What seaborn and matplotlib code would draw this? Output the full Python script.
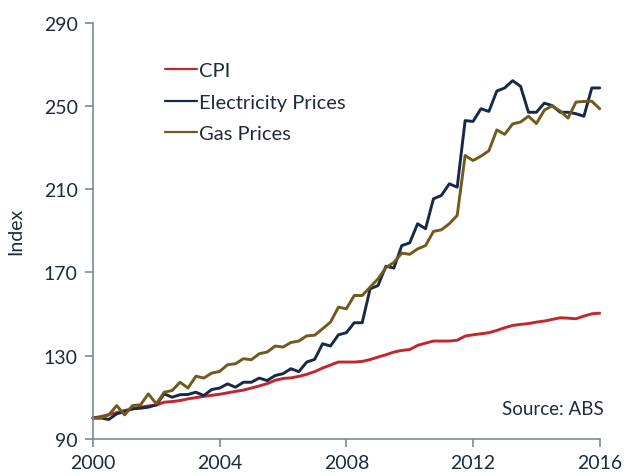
import numpy as np
import pandas as pd
import matplotlib
matplotlib.use("Agg")
import matplotlib.pyplot as plt
import seaborn as sns

# Quarterly, 2000 Q1 .. 2016 Q1
years = [2000 + 0.25 * i for i in range(65)]

cpi = [100.0, 100.7, 101.6, 102.6, 103.6, 104.4, 105.2, 105.8, 106.2, 107.6,
       107.9, 108.4, 109.2, 109.8, 110.4, 110.9, 111.4, 112.1, 112.8, 113.4,
       114.4, 115.4, 116.5, 118.1, 119.0, 119.3, 120.0, 121.0, 122.3, 124.0,
       125.5, 126.9, 126.9, 126.9, 127.2, 128.1, 129.3, 130.4, 131.7, 132.5,
       132.9, 134.9, 136.0, 137.0, 137.0, 137.0, 137.4, 139.4, 140.0, 140.5,
       141.0, 142.1, 143.4, 144.5, 145.0, 145.4, 146.1, 146.6, 147.4, 148.2,
       148.0, 147.7, 149.0, 150.1, 150.4]

electricity = [100.0, 100.0, 99.3, 102.0, 103.1, 104.4, 104.7, 105.2, 106.3, 111.6,
               110.0, 111.2, 111.3, 112.4, 110.8, 113.7, 114.4, 116.4, 114.8, 117.2,
               117.2, 119.2, 118.0, 120.4, 121.3, 123.7, 122.3, 126.9, 128.2, 135.7,
               134.6, 140.0, 141.0, 145.8, 145.8, 162.1, 163.7, 173.0, 172.1, 182.9,
               184.2, 193.4, 191.0, 205.4, 207.0, 212.6, 211.0, 243.0, 242.6, 248.7,
               247.4, 257.2, 258.7, 262.2, 259.5, 247.0, 247.0, 251.4, 250.2, 247.0,
               247.0, 246.3, 245.1, 258.7, 258.7]

gas = [100.0, 100.0, 101.5, 106.0, 101.5, 106.0, 106.3, 111.6, 106.8, 112.4,
       113.2, 117.2, 114.4, 120.1, 119.2, 121.6, 122.4, 125.6, 126.1, 128.5,
       128.0, 130.9, 131.7, 134.6, 134.1, 136.3, 137.0, 139.5, 139.8, 142.9,
       146.1, 153.3, 152.5, 158.9, 158.9, 162.9, 166.9, 172.3, 174.8, 179.3,
       178.7, 181.3, 182.9, 189.7, 190.5, 193.4, 197.4, 226.2, 223.8, 225.9,
       228.5, 238.5, 236.4, 241.4, 242.3, 245.1, 241.6, 248.0, 250.1, 247.6,
       244.2, 251.9, 252.2, 252.3, 248.7]

series_names = ["CPI", "Electricity Prices", "Gas Prices"]
colors = ["#C4262E", "#15294A", "#735A1C"]
x_ticks = [2000, 2004, 2008, 2012, 2016]
y_ticks = [90, 130, 170, 210, 250, 290]

df = pd.concat([
    pd.DataFrame({"Year": years, "Index": vals, "Series": name})
    for name, vals in zip(series_names, [cpi, electricity, gas])
], ignore_index=True)

sns.set_style("white")
plt.rcParams["font.family"] = ["Lato", "DejaVu Sans"]
text_color = "#1E2B3C"
spine_color = "#7D8795"

fig = plt.figure(figsize=(6.28, 4.77), dpi=100)
ax = fig.add_axes([0.148, 0.078, 0.807, 0.872])

sns.lineplot(data=df, x="Year", y="Index", hue="Series", hue_order=series_names,
             palette=dict(zip(series_names, colors)), linewidth=2.1, ax=ax,
             estimator=None)

ax.set_xlim(2000, 2016)
ax.set_ylim(90, 290)
ax.set_xticks(x_ticks)
ax.set_yticks(y_ticks)
ax.set_xlabel("")
ax.set_ylabel("Index", fontsize=14, color=text_color, labelpad=14)

for s in ["top", "right"]:
    ax.spines[s].set_visible(False)
for s in ["left", "bottom"]:
    ax.spines[s].set_color(spine_color)
    ax.spines[s].set_linewidth(1.2)
ax.tick_params(axis="both", direction="out", length=6, width=1.2, color=spine_color,
               labelsize=14, labelcolor=text_color, pad=5, left=True, bottom=True)

for line in ax.lines:
    line.set_clip_on(False)

leg = ax.legend(loc="upper left", bbox_to_anchor=(0.127, 0.925), frameon=False,
                fontsize=14.5, handlelength=1.55, handletextpad=0.12,
                labelspacing=0.72, borderaxespad=0)
for t in leg.get_texts():
    t.set_color(text_color)
for h in leg.get_lines():
    h.set_linewidth(1.6)

ax.text(1.008, 0.072, "Source: ABS", transform=ax.transAxes, ha="right", va="center",
        fontsize=13.5, color=text_color)

fig.savefig("out.png", dpi=100)
